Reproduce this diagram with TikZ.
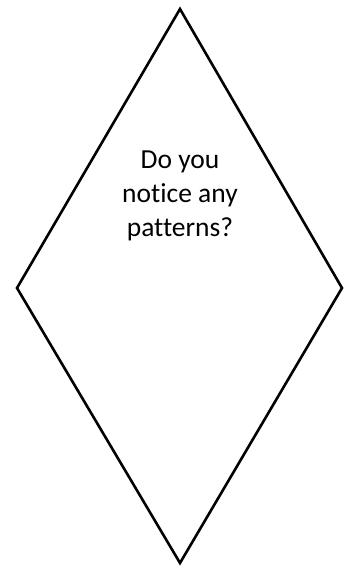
\documentclass[tikz,border=0pt]{standalone}
\usepackage{fontspec}
\setmainfont{Carlito}[Ligatures=NoCommon]
\begin{document}
\begin{tikzpicture}[x=1pt,y=-1pt,
  shapeline/.style={draw=black,line width=2.6pt,line join=miter},
  label/.style={font=\fontsize{27.5}{34}\selectfont,align=center,inner sep=0pt}]
\useasboundingbox (0,0) rectangle (352,566);
\coordinate (t) at (180,9);
\coordinate (l) at (17,288);
\coordinate (b) at (180,563);
\coordinate (r) at (342,288);
\draw[shapeline] (t) -- (l) -- (b) -- (r) -- cycle;
\node[label] (q) at (180,196) {Do you\\notice any\\patterns?};
\end{tikzpicture}
\end{document}
